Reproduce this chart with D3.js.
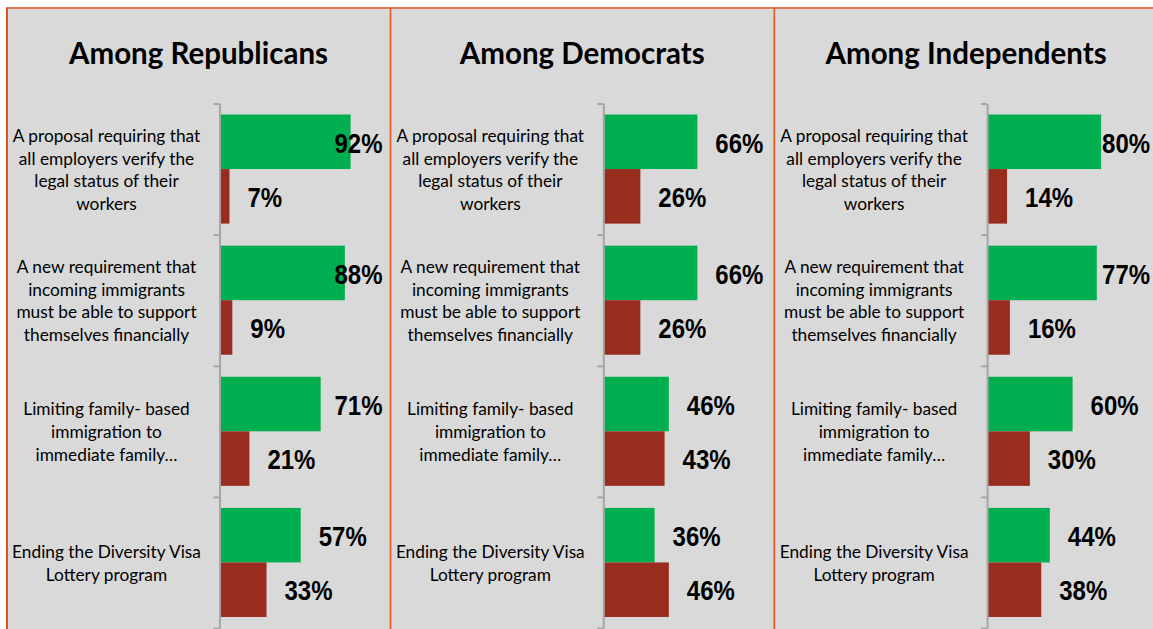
<!DOCTYPE html>
<html>
<head>
<meta charset="utf-8">
<script src="https://cdn.jsdelivr.net/npm/d3@7"></script>
<style>
  html, body { margin: 0; padding: 0; background: #ffffff; }
  svg { display: block; }
</style>
</head>
<body>
<script>
// ---------- DATA ----------
const panelTitles = ["Among Republicans", "Among Democrats", "Among Independents"];
const categories = ["verify", "financial", "family", "lottery"];
const categoryLabels = [
  ["A proposal requiring that", "all employers verify the", "legal status of their", "workers"],
  ["A new requirement that", "incoming immigrants", "must be able to support", "themselves financially"],
  ["Limiting family- based", "immigration to", "immediate family\u2026"],
  ["Ending the Diversity Visa", "Lottery program"]
];
const seriesNames = ["Support", "Oppose"];
const repSupport = [92, 88, 71, 57];
const repOppose  = [7, 9, 21, 33];
const demSupport = [66, 66, 46, 36];
const demOppose  = [26, 26, 43, 46];
const indSupport = [80, 77, 60, 44];
const indOppose  = [14, 16, 30, 38];
const panelSeries = [[repSupport, repOppose], [demSupport, demOppose], [indSupport, indOppose]];

// ---------- STYLE ----------
const W = 1153, H = 629;
const colors = { Support: "#00b050", Oppose: "#9a2c1f" };
const panelW = 383.8, panelLeft0 = 7, axisOffset = 212.5;

const svg = d3.select("body").append("svg").attr("width", W).attr("height", H);

svg.append("rect").attr("x", 7).attr("y", 8).attr("width", W - 7).attr("height", H - 8).attr("fill", "#d9d9d9");

panelTitles.forEach((title, i) => {
  const left = panelLeft0 + i * panelW;
  const ax = left + axisOffset;
  const g = svg.append("g");

  const x = d3.scaleLinear().domain([0, 100]).range([ax, ax + 142.5]);
  const y = d3.scaleBand().domain(categories).range([103.5, 628]).paddingInner(0.168).paddingOuter(0.084);
  const ys = d3.scaleBand().domain(seriesNames).range([0, y.bandwidth()]);
  const yTicks = d3.scaleLinear().domain([0, categories.length]).range([103.5, 628]);

  // title
  g.append("text")
    .attr("x", left + 191.5).attr("y", 64)
    .attr("text-anchor", "middle")
    .style("font-family", "Lato, 'Open Sans', sans-serif")
    .style("font-weight", "bold")
    .style("font-size", "29.5px")
    .attr("fill", "#000")
    .text(title);

  // bars
  const rows = [];
  categories.forEach((c, ci) => {
    seriesNames.forEach((s, si) => {
      rows.push({ cat: c, series: s, value: panelSeries[i][si][ci] });
    });
  });

  g.selectAll("rect.bar").data(rows).enter().append("rect")
    .attr("class", "bar")
    .attr("x", x(0))
    .attr("y", d => y(d.cat) + ys(d.series))
    .attr("width", d => x(d.value) - x(0))
    .attr("height", ys.bandwidth())
    .attr("fill", d => colors[d.series]);

  // axis
  const axisG = g.append("g").attr("transform", `translate(${ax},0)`)
    .call(d3.axisLeft(yTicks).tickValues(d3.range(categories.length + 1)).tickFormat("").tickSizeInner(6).tickSizeOuter(0));
  axisG.select(".domain").attr("stroke", "#a6a6a6").attr("stroke-width", 2);
  axisG.selectAll(".tick line").attr("stroke", "#a6a6a6").attr("stroke-width", 2);

  // category labels
  categories.forEach((c, ci) => {
    const lines = categoryLabels[ci];
    const cy = y(c) + y.bandwidth() / 2;
    const lh = 22.7;
    const t = g.append("text")
      .attr("text-anchor", "middle")
      .style("font-family", "Lato, 'Open Sans', sans-serif")
      .style("font-size", "17.3px")
      .attr("fill", "#000");
    lines.forEach((ln, li) => {
      t.append("tspan")
        .attr("x", left + 99.5)
        .attr("y", cy + 0.8 + (li - (lines.length - 1) / 2) * lh)
        .attr("dy", "0.35em")
        .text(ln);
    });
  });

  // value labels
  const limit = ax + 163;
  g.selectAll("text.val").data(rows).enter().append("text")
    .attr("class", "val")
    .attr("dy", "0.36em")
    .style("font-family", "'Liberation Sans', Arial, sans-serif")
    .style("font-weight", "bold")
    .style("font-size", "24px")
    .attr("fill", "#000")
    .text(d => d.value + "%")
    .each(function (d) {
      const w = this.getComputedTextLength();
      let sx = x(d.value) + 18;
      if (sx + w > limit) sx = limit - w;
      const cy = y(d.cat) + ys(d.series) + ys.bandwidth() / 2 + 1;
      d3.select(this).attr("transform", `translate(${sx},${cy}) scale(1,1.13)`);
    });
});

// borders
svg.append("line").attr("x1", 6).attr("x2", W).attr("y1", 8).attr("y2", 8).attr("stroke", "#e07a56").attr("stroke-width", 2);
svg.append("line").attr("x1", 7).attr("x2", 7).attr("y1", 8).attr("y2", H).attr("stroke", "#e0521e").attr("stroke-width", 2);
[1, 2].forEach(k => {
  const xx = panelLeft0 + k * panelW - 0.3;
  svg.append("line").attr("x1", xx).attr("x2", xx).attr("y1", 8).attr("y2", H).attr("stroke", "#e8541e").attr("stroke-width", 1.6);
});
</script>
</body>
</html>
